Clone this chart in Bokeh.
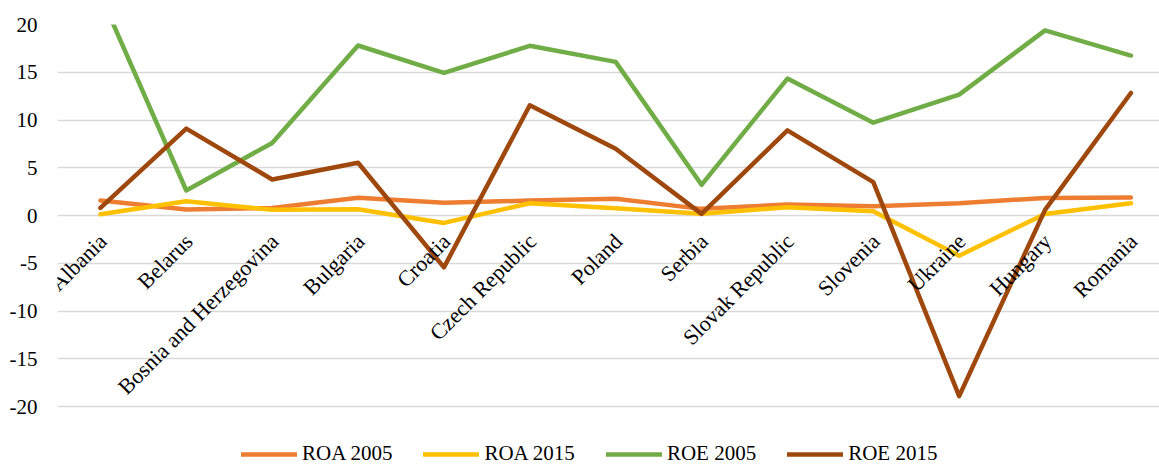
from bokeh.plotting import figure
from bokeh.models import Range1d, FixedTicker, Legend, LegendItem, ColumnDataSource
from bokeh.core.properties import value
from bokeh.embed import file_html
from bokeh.resources import INLINE
import math

categories = ["Albania", "Belarus", "Bosnia and Herzegovina", "Bulgaria", "Croatia",
              "Czech Republic", "Poland", "Serbia", "Slovak Republic", "Slovenia",
              "Ukraine", "Hungary", "Romania"]
roa_2005 = [1.57, 0.63, 0.80, 1.86, 1.33, 1.57, 1.75, 0.70, 1.15, 0.98, 1.29, 1.85, 1.89]
roa_2015 = [0.14, 1.50, 0.60, 0.66, -0.77, 1.29, 0.77, 0.18, 0.87, 0.45, -4.20, 0.17, 1.29]
roe_2005 = [23.1, 2.62, 7.60, 17.80, 14.93, 17.77, 16.09, 3.22, 14.34, 9.72, 12.66, 19.38, 16.75]
roe_2015 = [0.80, 9.10, 3.78, 5.53, -5.42, 11.54, 7.00, 0.18, 8.92, 3.50, -18.90, 0.60, 12.83]
y_ticks = [-20, -15, -10, -5, 0, 5, 10, 15, 20]

series = [
    ("ROA 2005", roa_2005, "#ED7D31"),
    ("ROA 2015", roa_2015, "#FFC000"),
    ("ROE 2005", roe_2005, "#70AD47"),
    ("ROE 2015", roe_2015, "#9E480E"),
]

FONT = "'Liberation Serif'"
xs = list(range(len(categories)))

PX_PER_X = 85.78   # pixels per category
PX_PER_Y = 9.535   # pixels per unit

p = figure(width=1159, height=464, output_backend="svg", toolbar_location=None,
           x_range=Range1d(-0.5, 12.333), y_range=Range1d(-26.06, 20.0),
           min_border_left=57, min_border_right=0, min_border_top=24, min_border_bottom=0)
p.outline_line_color = None
p.background_fill_color = "white"
p.border_fill_color = "white"

p.xaxis.visible = False
p.xgrid.visible = False
p.ygrid.ticker = FixedTicker(ticks=y_ticks)
p.ygrid.grid_line_color = "#D9D9D9"
p.ygrid.grid_line_width = 1.3

p.yaxis.ticker = FixedTicker(ticks=y_ticks)
p.yaxis.major_label_overrides = {t: str(t) for t in y_ticks}
p.yaxis.axis_line_color = None
p.yaxis.major_tick_line_color = None
p.yaxis.minor_tick_line_color = None
p.yaxis.major_label_standoff = 14
p.yaxis.major_label_text_font = FONT
p.yaxis.major_label_text_font_size = "21px"
p.yaxis.major_label_text_color = "#000000"

items = []
for name, vals, color in series:
    r = p.line(xs, vals, line_color=color, line_width=4.5, line_join="round", line_cap="round")
    items.append(LegendItem(label=name, renderers=[r]))

# category labels hang below the zero line, rotated 45 degrees
lab_x = [i + 2.5 / PX_PER_X for i in xs]
lab_y = [-22.0 / PX_PER_Y] * len(xs)
src = ColumnDataSource(dict(x=lab_x, y=lab_y, t=categories))
p.text(x="x", y="y", text="t", source=src, angle=math.pi / 4,
       text_align="right", text_baseline="alphabetic",
       text_font=value("Liberation Serif"), text_font_size="22px", text_color="#000000")

legend = Legend(items=items, orientation="horizontal", location=(184, -2),
                border_line_color=None, background_fill_alpha=0,
                padding=0, margin=0, spacing=31, label_standoff=5,
                glyph_width=56, glyph_height=20, label_height=20,
                label_text_font=FONT, label_text_font_size="21px",
                label_text_color="#000000")
p.add_layout(legend)

open("out.html", "w").write(file_html(p, INLINE))
